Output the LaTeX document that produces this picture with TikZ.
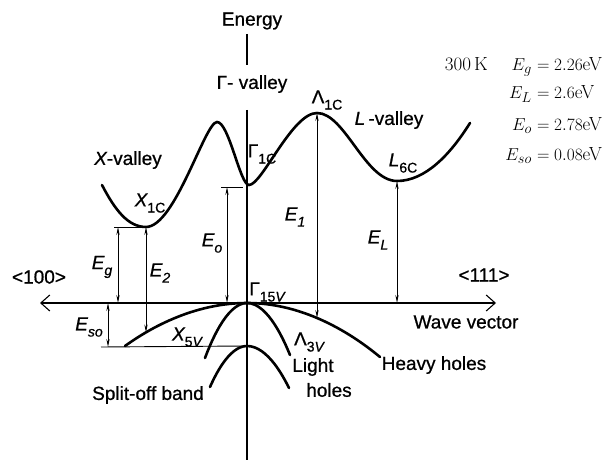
\documentclass[tikz,border=0pt]{standalone}
\usepackage{fontspec}
\newfontfamily\dinfont[FakeBold=0.8]{Liberation Sans}
\usetikzlibrary{arrows.meta}
\newcommand\sbs[1]{\raisebox{-0.32em}{\fontsize{14}{14}\selectfont #1}}
\begin{document}
\begin{tikzpicture}[x=1pt,y=1pt,
  band/.style={line width=2.6pt, line cap=round},
  axis/.style={line width=1.1pt},
  thinline/.style={line width=0.9pt},
  gap/.style={line width=0.9pt, {Stealth[length=8pt,width=3.2pt]}-{Stealth[length=8pt,width=3.2pt]}},
  lbl/.style={font=\dinfont\fontsize{19}{21}\selectfont, inner sep=0pt},
  eq/.style={font=\fontsize{19}{21}\selectfont, inner sep=0pt}]
\useasboundingbox (0,0) rectangle (605,460);
% axes
\node[lbl] (energy) at (252,439) {Energy};
\coordinate (e1) at (247,426);
\coordinate (e2) at (247,395);
\draw[axis] (e1) -- (e2);
\node[lbl] (gval) at (252,376) {Γ- valley};
\coordinate (vtop) at (247,350);
\coordinate (vbot) at (247,0);
\draw[axis] (vtop) -- (vbot);
\coordinate (hl) at (40,157);
\coordinate (hr) at (496,157);
\draw[axis, {Straight Barb[length=9pt,width=16pt]}-{Straight Barb[length=9pt,width=16pt]}] (hl) -- (hr);
% conduction band
\coordinate (A) at (102,275);
\coordinate (Xmin) at (146,233);
\coordinate (P1) at (217,338);
\coordinate (Gmin) at (249,275);
\coordinate (Lam) at (317,347);
\coordinate (Lmin) at (397,279);
\coordinate (B) at (470,337);
\draw[band] (A) .. controls (115,250) and (128,233) .. (Xmin)
  .. controls (175,233) and (205,338) .. (P1)
  .. controls (229,338) and (240,275) .. (Gmin)
  .. controls (262,275) and (292,347) .. (Lam)
  .. controls (345,347) and (365,279) .. (Lmin)
  .. controls (425,279) and (450,305) .. (B);
% valence bands
\coordinate (G15) at (247,157);
\coordinate (hhL) at (125,114);
\coordinate (hhR) at (380,103);
\coordinate (lhL) at (205,102);
\coordinate (lhR) at (290,105);
\coordinate (soT) at (247,114);
\coordinate (soL) at (210,73);
\coordinate (soR) at (289,72);
\draw[band] (hhL) parabola bend (G15) (hhR);
\draw[band] (lhL) parabola bend (G15) (lhR);
\draw[band] (soL) parabola bend (soT) (soR);
\coordinate (soline) at (101,113);
\draw[thinline] (soline) -- (soT);
% energy gaps
\coordinate (egT) at (118,233);
\coordinate (egB) at (118,157);
\coordinate (egK) at (114,233);
\draw[thinline] (egK) -- (Xmin);
\draw[gap] (egT) -- (egB);
\coordinate (x5) at (146,127.5);
\draw[gap] (Xmin) -- (x5);
\coordinate (eoT) at (227,273);
\coordinate (eoB) at (227,157);
\coordinate (eoK1) at (221,273);
\coordinate (eoK2) at (243,273);
\draw[thinline] (eoK1) -- (eoK2);
\draw[gap] (eoT) -- (eoB);
\coordinate (l3) at (317,142);
\draw[gap] (Lam) -- (l3);
\coordinate (elB) at (397,157);
\draw[gap] (Lmin) -- (elB);
\coordinate (esT) at (108,157);
\coordinate (esB) at (108,113);
\draw[gap] (esT) -- (esB);
% labels
\node[lbl] (xval) at (128,300) {{\itshape X}-valley};
\node[lbl] (lval) at (389,340) {{\itshape L}\,-valley};
\node[lbl] (lam1c) at (327,360) {Λ\sbs{1C}};
\node[lbl] (g1c) at (262,306) {Γ\sbs{1C}};
\node[lbl] (x1c) at (150,257) {{\itshape X}\sbs{1C}};
\node[lbl] (l6c) at (403,297) {{\itshape L}\sbs{6C}};
\node[lbl] (g15v) at (267,168) {Γ\sbs{15{\itshape V}}};
\node[lbl] (x5v) at (187,123) {{\itshape X}\sbs{5{\itshape V}}};
\node[lbl] (l3v) at (309,118) {Λ\sbs{3{\itshape V}}};
\node[lbl] (Eg) at (102,193) {\itshape E\sbs{g}};
\node[lbl] (E2) at (160,187) {\itshape E\sbs{2}};
\node[lbl] (Eo) at (212,217) {\itshape E\sbs{o}};
\node[lbl] (E1) at (295,243) {\itshape E\sbs{1}};
\node[lbl] (EL) at (378,220) {\itshape E\sbs{L}};
\node[lbl] (Eso) at (89,133) {\itshape E\sbs{so}};
\node[lbl] (d100) at (39,183) {<100>};
\node[lbl] (d111) at (484,185) {<111>};
\node[lbl] (wv) at (466,138) {Wave vector};
\node[lbl] (hh) at (434,95) {Heavy holes};
\node[lbl] (lh1) at (313,93) {Light};
\node[lbl] (lh2) at (329,70) {holes};
\node[lbl] (so) at (148,65) {Split-off band};
% parameters
\node[eq, anchor=base east] (tk) at (488,389) {300\,K};
\node[eq, anchor=base east] (q1l) at (532,389) {$E_g$};
\node[eq, anchor=base west] (q1r) at (532,389) {${}= 2.26$eV};
\node[eq, anchor=base east] (q2l) at (532,361) {$E_L$};
\node[eq, anchor=base west] (q2r) at (532,361) {${}= 2.6$eV};
\node[eq, anchor=base east] (q3l) at (532,329) {$E_o$};
\node[eq, anchor=base west] (q3r) at (532,329) {${}= 2.78$eV};
\node[eq, anchor=base east] (q4l) at (532,299) {$E_{so}$};
\node[eq, anchor=base west] (q4r) at (532,299) {${}= 0.08$eV};
\end{tikzpicture}
\end{document}
